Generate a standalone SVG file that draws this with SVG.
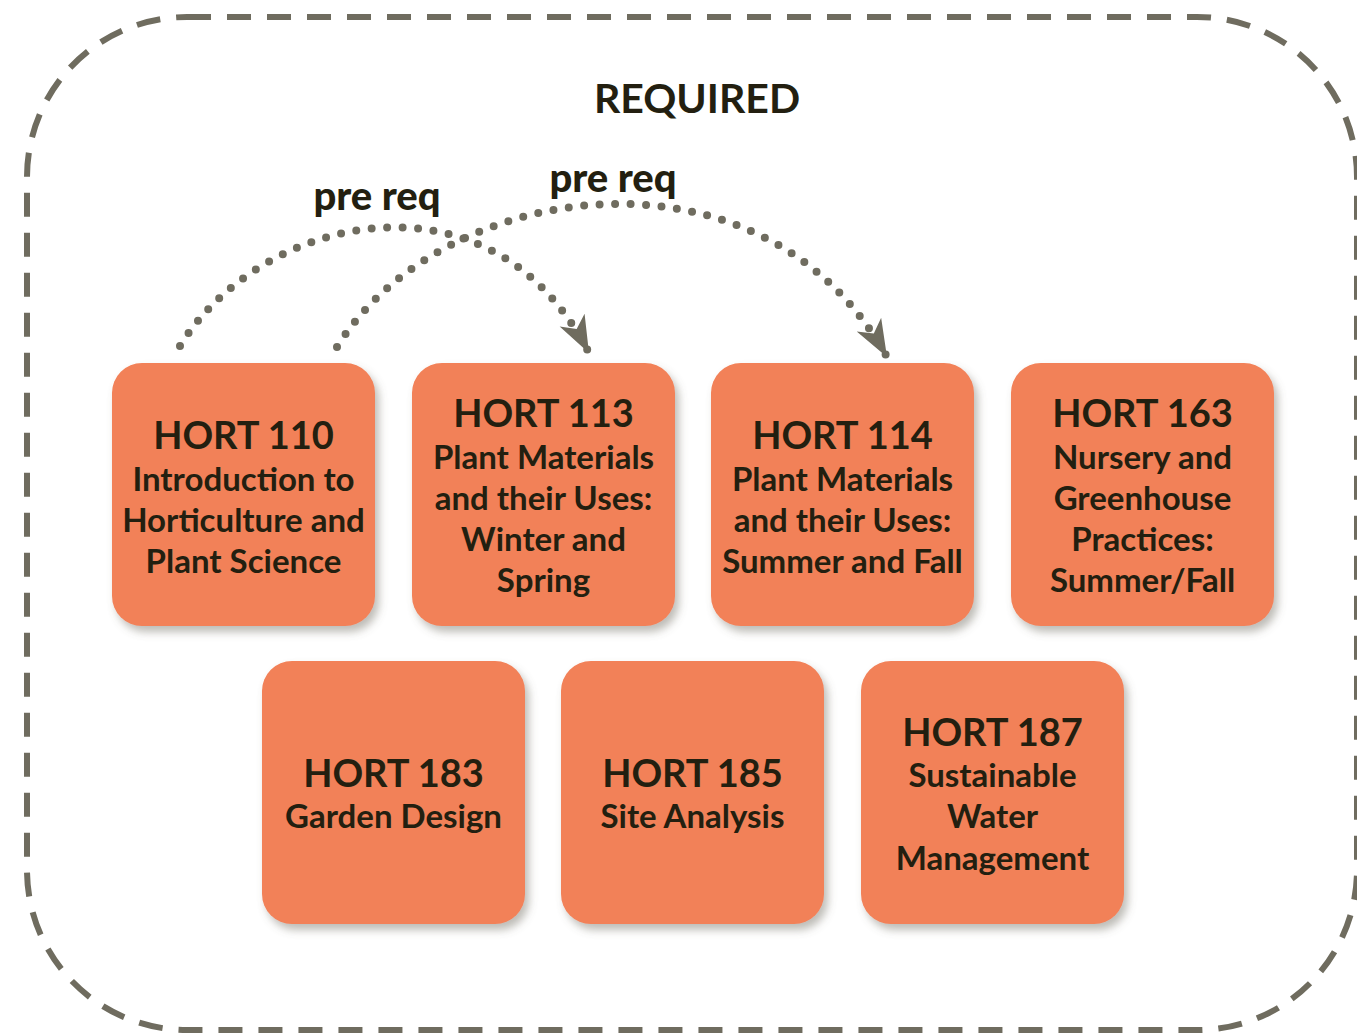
<svg xmlns="http://www.w3.org/2000/svg" width="1357" height="1033" viewBox="0 0 1357 1033">
  <style>
    .box { fill: #f28158; filter: url(#shadow); }
    .t { font-family: Lato, "Open Sans", sans-serif; font-weight: 700; fill: #231f10; text-anchor: middle; }
    .title { font-size: 38px; }
    .body { font-size: 33px; }
    .lbl { font-size: 40px; font-weight: 900; }
    .dots { fill: none; stroke: #6f6c5f; stroke-width: 8; stroke-linecap: round; stroke-dasharray: 0 15.5; }
  </style>
  <defs>
    <filter id="shadow" x="-10%" y="-10%" width="130%" height="130%">
      <feDropShadow dx="4" dy="6" stdDeviation="4" flood-color="#6f6c5f" flood-opacity="0.45"/>
    </filter>
    <marker id="head" markerUnits="userSpaceOnUse" viewBox="-40 -16 42 32" refX="0" refY="0" markerWidth="42" markerHeight="32" orient="auto">
      <path d="M0,0 L-37,-14 L-27,0 L-37,14 Z" fill="#6f6c5f"/>
    </marker>
  </defs>
  <rect x="27" y="17" width="1330" height="1013" rx="160" ry="160" fill="none" stroke="#6f6c5f" stroke-width="6" stroke-dasharray="24 16"/>
  <text class="t" x="697" y="113" font-size="41" font-weight="900">REQUIRED</text>
  <g id="connectors">
    <path class="dots" d="M180,346 C260,215 490,160 589,353" marker-end="url(#head)"/>
    <path class="dots" d="M337,347 C440,180 760,130 887,357" marker-end="url(#head)"/>
    <text class="t lbl" x="377" y="210">pre req</text>
    <text class="t lbl" x="613" y="192">pre req</text>
  </g>
  <g id="hort110">
    <rect class="box" x="112" y="363" width="263" height="263" rx="30"/>
    <text class="t title" x="243.5" y="449">HORT 110</text>
    <text class="t body" x="243.5" y="491">Introduction to</text>
    <text class="t body" x="243.5" y="532">Horticulture and</text>
    <text class="t body" x="243.5" y="573">Plant Science</text>
  </g>
  <g id="hort113">
    <rect class="box" x="412" y="363" width="263" height="263" rx="30"/>
    <text class="t title" x="543.5" y="427">HORT 113</text>
    <text class="t body" x="543.5" y="469">Plant Materials</text>
    <text class="t body" x="543.5" y="510">and their Uses:</text>
    <text class="t body" x="543.5" y="551">Winter and</text>
    <text class="t body" x="543.5" y="592">Spring</text>
  </g>
  <g id="hort114">
    <rect class="box" x="711" y="363" width="263" height="263" rx="30"/>
    <text class="t title" x="842.5" y="449">HORT 114</text>
    <text class="t body" x="842.5" y="491">Plant Materials</text>
    <text class="t body" x="842.5" y="532">and their Uses:</text>
    <text class="t body" x="842.5" y="573">Summer and Fall</text>
  </g>
  <g id="hort163">
    <rect class="box" x="1011" y="363" width="263" height="263" rx="30"/>
    <text class="t title" x="1142.5" y="427">HORT 163</text>
    <text class="t body" x="1142.5" y="469">Nursery and</text>
    <text class="t body" x="1142.5" y="510">Greenhouse</text>
    <text class="t body" x="1142.5" y="551">Practices:</text>
    <text class="t body" x="1142.5" y="592">Summer/Fall</text>
  </g>
  <g id="hort183">
    <rect class="box" x="262" y="661" width="263" height="263" rx="30"/>
    <text class="t title" x="393.5" y="787">HORT 183</text>
    <text class="t body" x="393.5" y="828">Garden Design</text>
  </g>
  <g id="hort185">
    <rect class="box" x="561" y="661" width="263" height="263" rx="30"/>
    <text class="t title" x="692.5" y="787">HORT 185</text>
    <text class="t body" x="692.5" y="828">Site Analysis</text>
  </g>
  <g id="hort187">
    <rect class="box" x="861" y="661" width="263" height="263" rx="30"/>
    <text class="t title" x="992.5" y="746">HORT 187</text>
    <text class="t body" x="992.5" y="787">Sustainable</text>
    <text class="t body" x="992.5" y="828">Water</text>
    <text class="t body" x="992.5" y="870">Management</text>
  </g>
</svg>
